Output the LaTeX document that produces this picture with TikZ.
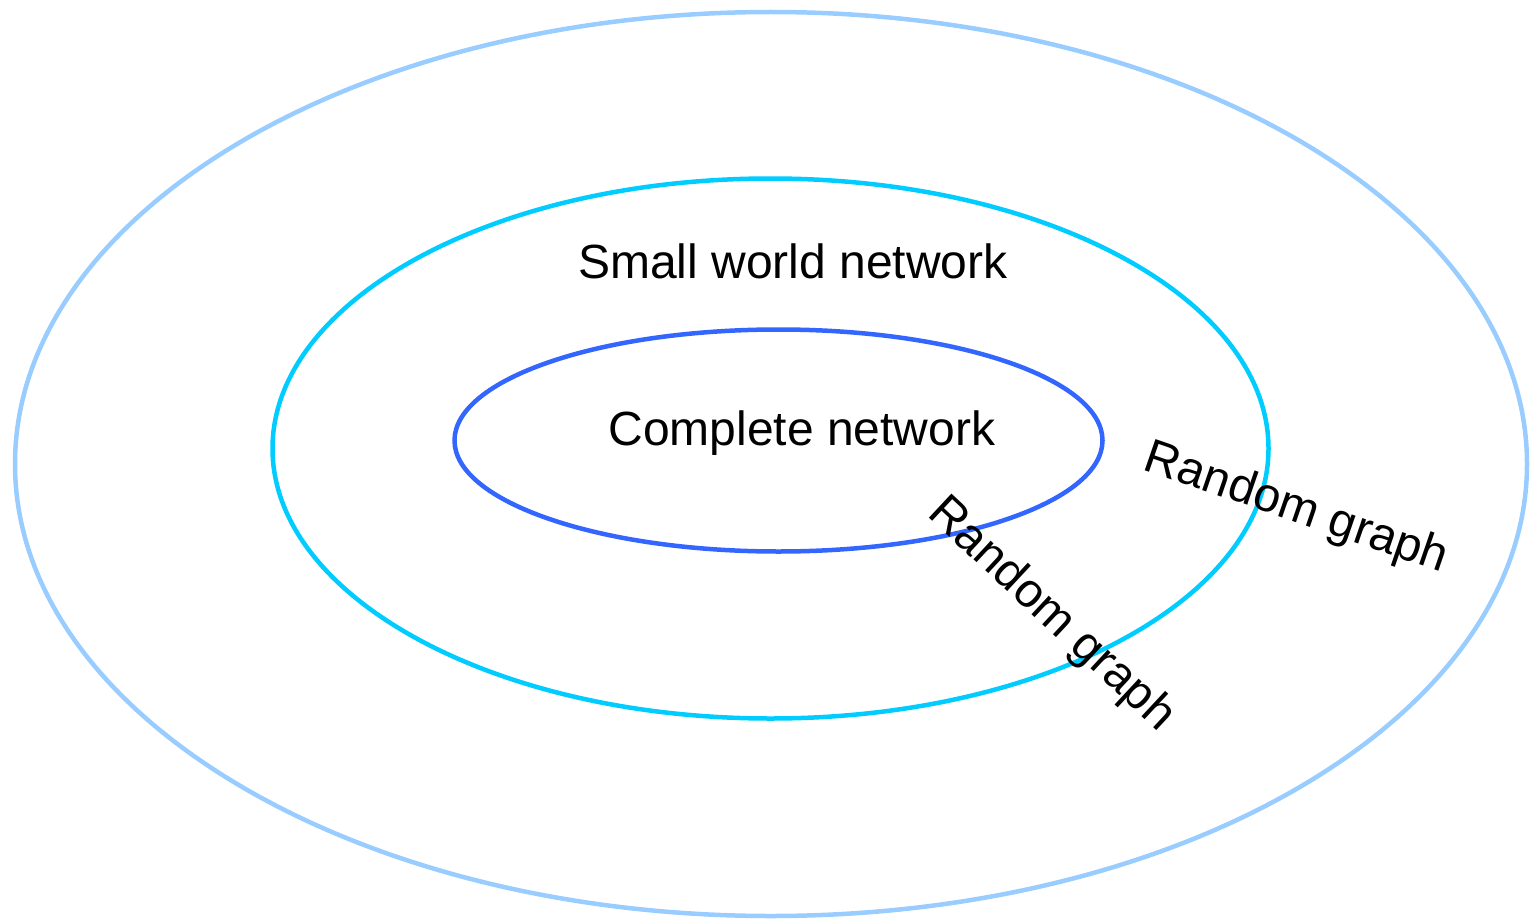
\documentclass[tikz,border=0pt]{standalone}
\usepackage{fontspec}
\setmainfont{Liberation Sans}

\definecolor{outerblue}{HTML}{99CCFF}
\definecolor{middlecyan}{HTML}{00CCFF}
\definecolor{innerblue}{HTML}{3366FF}

\def\ringCentres{\coordinate (O) at (771,464);\coordinate (M) at (770.5,448.5);\coordinate (I) at (778.5,440.5);}

\begin{document}
\begin{tikzpicture}[x=1pt, y=-1pt, line width=4.5pt,
		every node/.style={font=\fontsize{48}{58}\selectfont, inner sep=0pt}]
		\useasboundingbox (0,0) rectangle (1536,923);
		\ringCentres
		
		% the three rings
		\draw[outerblue] (O) ellipse [x radius=756, y radius=452];
		\draw[middlecyan] (M) ellipse [x radius=498, y radius=270];
		\draw[innerblue] (I) ellipse [x radius=324, y radius=111];
		
		% labels
		\node[anchor=base] (small) at (793,278) {Small world network};
		\node[anchor=base] (complete) at (802,445) {Complete network};
		\node[rotate=-19] (randomA) at (1296,509) {Random graph};
		\node[rotate=-43] (randomB) at (1051,615) {Random graph};
\end{tikzpicture}
\end{document}
